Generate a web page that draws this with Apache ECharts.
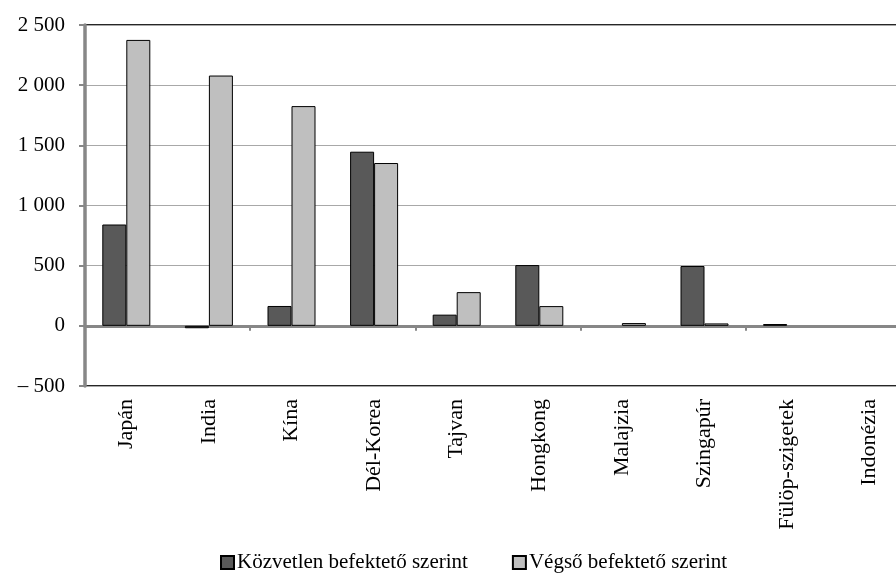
<!DOCTYPE html>
<html>
<head>
<meta charset="utf-8">
<script src="https://cdn.jsdelivr.net/npm/echarts@6/dist/echarts.min.js"></script>
<style>html,body{margin:0;padding:0;background:#fff}#c{width:896px;height:574px}</style>
</head>
<body>
<div id="c"></div>
<script>
const categories = ['Japán','India','Kína','Dél-Korea','Tajvan','Hongkong','Malajzia','Szingapúr','Fülöp-szigetek','Indonézia'];
const seriesNames = ['Közvetlen befektető szerint','Végső befektető szerint'];
const directValues = [842, -20, 165, 1447, 93, 505, 0, 497, 15, 0];
const finalValues = [2376, 2080, 1826, 1353, 280, 164, 23, 20, 0, 0];

const FONT = "'Liberation Serif','Times New Roman',serif";
function fmt(v){
  const a = Math.abs(v);
  let s = a >= 1000 ? Math.floor(a/1000) + ' ' + String(a%1000).padStart(3,'0') : String(a);
  return v < 0 ? '– ' + s : s;
}
const noZero = arr => arr.map(v => v === 0 ? null : v);
const chart = echarts.init(document.getElementById('c'), null, {renderer:'canvas'});
chart.setOption({
  animation:false,
  backgroundColor:'#fff',
  grid:{left:85, top:25, width:826, height:361, containLabel:false, outerBoundsMode:'none',
        show:true, borderColor:'#262626', borderWidth:2, backgroundColor:'transparent'},
  legend:{
    left:220, top:552, padding:0, itemWidth:13, itemHeight:13, itemGap:44,
    icon:'rect',
    textStyle:{fontFamily:FONT, fontSize:21, color:'#000', padding:[0,0,0,-2]},
    data:seriesNames
  },
  xAxis:[
    {type:'category', data:categories, position:'bottom',
     axisLine:{onZero:true, lineStyle:{color:'#878787', width:3}},
     axisTick:{show:true, length:5, lineStyle:{color:'#878787', width:2}},
     axisLabel:{show:false}, splitLine:{show:false}},
    {type:'category', data:categories, position:'bottom',
     axisLine:{show:false, onZero:false},
     axisTick:{show:false},
     axisLabel:{rotate:90, margin:13, fontFamily:FONT, fontSize:22, color:'#000', interval:0}}
  ],
  yAxis:{
    type:'value', min:-500, max:2500, interval:500,
    axisLine:{show:true, lineStyle:{color:'#878787', width:3.5}},
    axisTick:{show:true, length:6, lineStyle:{color:'#878787', width:2}},
    axisLabel:{formatter:fmt, margin:20, fontFamily:FONT, fontSize:21, color:'#000'},
    splitLine:{show:true, lineStyle:{color:'#a8a8a8', width:1}}
  },
  series:[
    {name:seriesNames[0], type:'bar', data:noZero(directValues), barWidth:24, barGap:'0%',
     itemStyle:{color:'#595959', borderColor:'#000', borderWidth:1}},
    {name:seriesNames[1], type:'bar', data:noZero(finalValues), barWidth:24, barGap:'0%',
     itemStyle:{color:'#bfbfbf', borderColor:'#000', borderWidth:1}}
  ]
});
</script>
</body>
</html>
